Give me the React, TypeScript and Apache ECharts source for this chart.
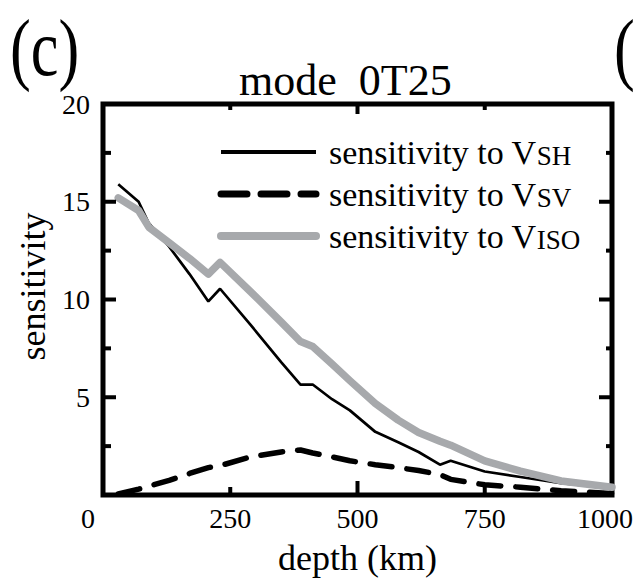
import React, { useEffect, useRef } from 'react';
import * as echarts from 'echarts';

const depthKm = [30, 70, 90, 130, 170, 207, 230, 290, 350, 388, 412, 450, 485, 535, 580, 620, 662, 683, 750, 820, 900, 1000];
const sensVSH = [15.9, 15.0, 13.9, 12.7, 11.3, 9.9, 10.55, 8.7, 6.8, 5.65, 5.65, 4.9, 4.33, 3.23, 2.7, 2.2, 1.55, 1.75, 1.2, 0.92, 0.6, 0.35];
const sensVSV = [0.05, 0.3, 0.45, 0.75, 1.1, 1.4, 1.5, 1.95, 2.2, 2.3, 2.15, 1.95, 1.75, 1.55, 1.4, 1.25, 1.05, 0.8, 0.52, 0.4, 0.22, 0.08];
const sensVISO = [15.2, 14.55, 13.7, 12.9, 12.1, 11.3, 11.9, 10.4, 8.85, 7.85, 7.6, 6.7, 5.85, 4.68, 3.83, 3.2, 2.75, 2.55, 1.75, 1.22, 0.72, 0.4];
const xTickLabels = [0, 250, 500, 750, 1000];
const yTickLabels = [5, 10, 15, 20];
const xMajorTicks = [500];
const xMinorTicks = [250, 750];
const yMajorTicks = [5, 10, 15];
const yMinorTicks = [2.5, 7.5, 12.5, 17.5];
const seriesNames = ['sensitivity to VSH', 'sensitivity to VSV', 'sensitivity to VISO'];
const titleText = 'mode  0T25';
const panelLabel = '(c)';
const nextPanelLabel = '(';

const X_MIN = 0;
const X_MAX = 1000;
const Y_MIN = 0;
const Y_MAX = 20;

const FONT = 'Liberation Serif';

const pairs = (ys: number[]) => depthKm.map((d, i) => [d, ys[i]]);

// [axis (0 = depth, 1 = sensitivity), value, major flag]
const tickData = [
  ...xMajorTicks.map((v) => [0, v, 1]),
  ...xMinorTicks.map((v) => [0, v, 0]),
  ...yMajorTicks.map((v) => [1, v, 1]),
  ...yMinorTicks.map((v) => [1, v, 0]),
];

const hiddenAxis = {
  axisLine: { show: false, onZero: false },
  axisTick: { show: false },
  minorTick: { show: false },
  splitLine: { show: false },
  minorSplitLine: { show: false },
};

export default function App() {
  const ref = useRef<HTMLDivElement>(null);
  useEffect(() => {
    if (!ref.current) return;
    const chart = echarts.init(ref.current, undefined, { renderer: 'svg' });
    const tickStroke = { stroke: '#000', lineWidth: 4 };
    const option: any = {
      animation: false,
      backgroundColor: '#fff',
      textStyle: { fontFamily: FONT, color: '#000' },
      title: {
        text: titleText,
        left: 239,
        top: 58,
        padding: 0,
        textStyle: { fontFamily: FONT, fontSize: 44, fontWeight: 'normal', color: '#000' },
      },
      graphic: [
        {
          type: 'text',
          x: 10,
          y: 48,
          scaleX: 0.78,
          style: { text: panelLabel, fontFamily: FONT, fontSize: 80, fill: '#000', verticalAlign: 'middle', align: 'left' },
        },
        {
          type: 'text',
          x: 614,
          y: 48,
          scaleX: 0.78,
          style: { text: nextPanelLabel, fontFamily: FONT, fontSize: 80, fill: '#000', verticalAlign: 'middle', align: 'left' },
        },
      ],
      legend: {
        orient: 'vertical',
        left: 217,
        top: 135,
        padding: 0,
        itemWidth: 95,
        itemHeight: 14,
        itemGap: 8,
        itemStyle: { opacity: 0 },
        data: [
          { name: seriesNames[0], itemStyle: { opacity: 0 }, lineStyle: { width: 4, color: '#000', type: 'solid' } },
          { name: seriesNames[1], itemStyle: { opacity: 0 }, lineStyle: { width: 7, color: '#000', type: [26, 14], cap: 'round' } },
          { name: seriesNames[2], itemStyle: { opacity: 0 }, lineStyle: { width: 8, color: '#a7a9ac', type: 'solid', cap: 'round' } },
        ],
        formatter: (name: string) => {
          const m = name.match(/^(.*V)(SH|SV|ISO)$/);
          if (!m) return name;
          return `{a|${m[1]}}{s|${m[2]}}`;
        },
        textStyle: {
          fontFamily: FONT,
          fontSize: 34,
          color: '#000',
          rich: {
            a: { fontFamily: FONT, fontSize: 34, color: '#000', padding: [0, 0, 0, 8], verticalAlign: 'bottom' },
            s: { fontFamily: FONT, fontSize: 27, color: '#000', verticalAlign: 'bottom' },
          },
        },
      },
      grid: {
        left: 103,
        right: 22,
        top: 104,
        bottom: 88,
        containLabel: false,
        show: true,
        borderColor: '#000',
        borderWidth: 5,
        backgroundColor: 'transparent',
      },
      xAxis: [
        {
          type: 'value',
          position: 'bottom',
          min: X_MIN,
          max: X_MAX,
          interval: 250,
          ...hiddenAxis,
          axisLabel: {
            show: true,
            customValues: xTickLabels,
            margin: 9,
            fontFamily: FONT,
            fontSize: 28,
            color: '#000',
            formatter: (v: number) => (v === 0 ? '{z|0}' : v === 1000 ? '{w|1000}' : String(v)),
            rich: {
              z: { fontFamily: FONT, fontSize: 28, color: '#000', padding: [0, 30, 0, 0] },
              w: { fontFamily: FONT, fontSize: 28, color: '#000', padding: [0, 14, 0, 0] },
            },
          },
          name: 'depth (km)',
          nameLocation: 'middle',
          nameGap: 45,
          nameTextStyle: { fontFamily: FONT, fontSize: 36, color: '#000' },
        },
      ],
      yAxis: [
        {
          type: 'value',
          position: 'left',
          min: Y_MIN,
          max: Y_MAX,
          interval: 5,
          ...hiddenAxis,
          axisLabel: {
            show: true,
            customValues: yTickLabels,
            margin: 13,
            fontFamily: FONT,
            fontSize: 28,
            color: '#000',
          },
          name: 'sensitivity',
          nameLocation: 'middle',
          nameGap: 47,
          nameRotate: 90,
          nameTextStyle: { fontFamily: FONT, fontSize: 36, color: '#000', padding: [0, 0, 0, 26] },
        },
      ],
      series: [
        {
          name: seriesNames[0],
          type: 'line',
          data: pairs(sensVSH),
          symbol: 'none',
          lineStyle: { color: '#000', width: 2.7 },
          itemStyle: { color: '#000' },
          z: 3,
        },
        {
          name: seriesNames[1],
          type: 'line',
          data: pairs(sensVSV),
          symbol: 'none',
          lineStyle: { color: '#000', width: 5.5, type: [22, 15], cap: 'round' },
          itemStyle: { color: '#000' },
          z: 3,
        },
        {
          name: seriesNames[2],
          type: 'line',
          data: pairs(sensVISO),
          symbol: 'none',
          lineStyle: { color: '#a7a9ac', width: 7.5, cap: 'round', join: 'round' },
          itemStyle: { color: '#a7a9ac' },
          z: 4,
        },
        {
          type: 'custom',
          name: 'frame ticks',
          silent: true,
          clip: false,
          z: 5,
          data: tickData,
          renderItem: (_params: any, api: any) => {
            const axis = api.value(0);
            const v = api.value(1);
            const major = api.value(2) === 1;
            if (axis === 0) {
              const b = api.coord([v, Y_MIN]);
              const t = api.coord([v, Y_MAX]);
              const lb = major ? 14 : 8;
              const lt = major ? 10 : 6;
              return {
                type: 'group',
                children: [
                  { type: 'line', shape: { x1: b[0], y1: b[1], x2: b[0], y2: b[1] - lb }, style: tickStroke },
                  { type: 'line', shape: { x1: t[0], y1: t[1], x2: t[0], y2: t[1] + lt }, style: tickStroke },
                ],
              };
            }
            const l = api.coord([X_MIN, v]);
            const r = api.coord([X_MAX, v]);
            const ll = major ? 13 : 8;
            const lr = major ? 13 : 6;
            return {
              type: 'group',
              children: [
                { type: 'line', shape: { x1: l[0], y1: l[1], x2: l[0] + ll, y2: l[1] }, style: tickStroke },
                { type: 'line', shape: { x1: r[0], y1: r[1], x2: r[0] - lr, y2: r[1] }, style: tickStroke },
              ],
            };
          },
        },
      ],
    };
    chart.setOption(option);
    return () => chart.dispose();
  }, []);
  return (
    <div
      ref={ref}
      style={{ position: 'fixed', left: 0, top: 0, width: 636, height: 583, background: '#fff' }}
    />
  );
}
